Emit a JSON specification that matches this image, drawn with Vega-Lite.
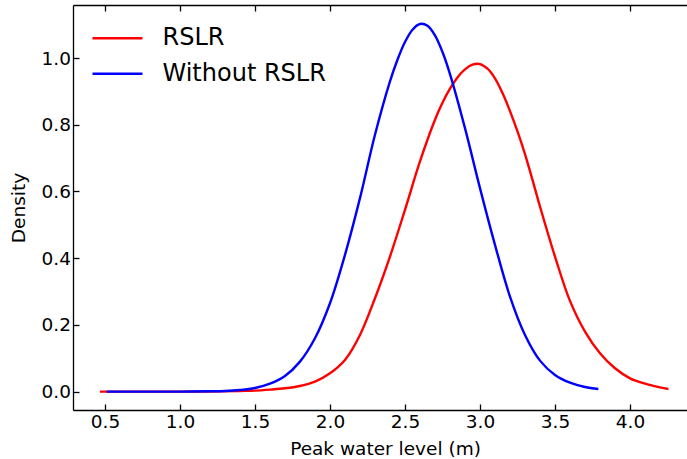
{
  "$schema": "https://vega.github.io/schema/vega-lite/v6.json",
  "width": 614,
  "height": 405,
  "autosize": {"type": "none"},
  "padding": {"left": 73, "top": 5, "right": 0, "bottom": 49},
  "background": "white",
  "config": {
    "view": {"stroke": null},
    "font": "DejaVu Sans",
    "axis": {
      "domainColor": "black",
      "domainWidth": 1.3,
      "tickColor": "black",
      "tickWidth": 1.3,
      "tickSize": -6,
      "labelColor": "black",
      "labelFont": "DejaVu Sans",
      "labelFontSize": 18.5,
      "titleColor": "black",
      "titleFont": "DejaVu Sans",
      "titleFontSize": 18.5,
      "titleFontWeight": "normal",
      "grid": false
    }
  },
  "data": {
    "values": [
      {"x": 0.467, "y": 0.0, "series": "RSLR"},
      {"x": 0.8, "y": 0.0, "series": "RSLR"},
      {"x": 1.0, "y": 0.0, "series": "RSLR"},
      {"x": 1.2, "y": 0.0005, "series": "RSLR"},
      {"x": 1.4, "y": 0.002, "series": "RSLR"},
      {"x": 1.5, "y": 0.003, "series": "RSLR"},
      {"x": 1.6, "y": 0.006, "series": "RSLR"},
      {"x": 1.7, "y": 0.01, "series": "RSLR"},
      {"x": 1.8, "y": 0.017, "series": "RSLR"},
      {"x": 1.9, "y": 0.03, "series": "RSLR"},
      {"x": 2.0, "y": 0.055, "series": "RSLR"},
      {"x": 2.1, "y": 0.095, "series": "RSLR"},
      {"x": 2.2, "y": 0.17, "series": "RSLR"},
      {"x": 2.3, "y": 0.28, "series": "RSLR"},
      {"x": 2.4, "y": 0.405, "series": "RSLR"},
      {"x": 2.5, "y": 0.545, "series": "RSLR"},
      {"x": 2.6, "y": 0.69, "series": "RSLR"},
      {"x": 2.7, "y": 0.815, "series": "RSLR"},
      {"x": 2.75, "y": 0.866, "series": "RSLR"},
      {"x": 2.8, "y": 0.908, "series": "RSLR"},
      {"x": 2.85, "y": 0.942, "series": "RSLR"},
      {"x": 2.9, "y": 0.966, "series": "RSLR"},
      {"x": 2.95, "y": 0.98, "series": "RSLR"},
      {"x": 3.0, "y": 0.982, "series": "RSLR"},
      {"x": 3.05, "y": 0.968, "series": "RSLR"},
      {"x": 3.1, "y": 0.939, "series": "RSLR"},
      {"x": 3.15, "y": 0.895, "series": "RSLR"},
      {"x": 3.2, "y": 0.841, "series": "RSLR"},
      {"x": 3.25, "y": 0.78, "series": "RSLR"},
      {"x": 3.3, "y": 0.712, "series": "RSLR"},
      {"x": 3.35, "y": 0.635, "series": "RSLR"},
      {"x": 3.4, "y": 0.555, "series": "RSLR"},
      {"x": 3.5, "y": 0.405, "series": "RSLR"},
      {"x": 3.6, "y": 0.272, "series": "RSLR"},
      {"x": 3.7, "y": 0.18, "series": "RSLR"},
      {"x": 3.8, "y": 0.115, "series": "RSLR"},
      {"x": 3.9, "y": 0.07, "series": "RSLR"},
      {"x": 4.0, "y": 0.04, "series": "RSLR"},
      {"x": 4.1, "y": 0.024, "series": "RSLR"},
      {"x": 4.2, "y": 0.013, "series": "RSLR"},
      {"x": 4.256, "y": 0.008, "series": "RSLR"},
      {"x": 0.511, "y": 0.0, "series": "Without RSLR"},
      {"x": 0.8, "y": 0.0, "series": "Without RSLR"},
      {"x": 1.0, "y": 0.0002, "series": "Without RSLR"},
      {"x": 1.2, "y": 0.001, "series": "Without RSLR"},
      {"x": 1.3, "y": 0.002, "series": "Without RSLR"},
      {"x": 1.4, "y": 0.005, "series": "Without RSLR"},
      {"x": 1.5, "y": 0.011, "series": "Without RSLR"},
      {"x": 1.6, "y": 0.024, "series": "Without RSLR"},
      {"x": 1.7, "y": 0.047, "series": "Without RSLR"},
      {"x": 1.8, "y": 0.09, "series": "Without RSLR"},
      {"x": 1.9, "y": 0.16, "series": "Without RSLR"},
      {"x": 2.0, "y": 0.265, "series": "Without RSLR"},
      {"x": 2.1, "y": 0.41, "series": "Without RSLR"},
      {"x": 2.2, "y": 0.58, "series": "Without RSLR"},
      {"x": 2.3, "y": 0.77, "series": "Without RSLR"},
      {"x": 2.4, "y": 0.93, "series": "Without RSLR"},
      {"x": 2.45, "y": 0.995, "series": "Without RSLR"},
      {"x": 2.5, "y": 1.048, "series": "Without RSLR"},
      {"x": 2.55, "y": 1.085, "series": "Without RSLR"},
      {"x": 2.6, "y": 1.102, "series": "Without RSLR"},
      {"x": 2.65, "y": 1.097, "series": "Without RSLR"},
      {"x": 2.7, "y": 1.068, "series": "Without RSLR"},
      {"x": 2.75, "y": 1.018, "series": "Without RSLR"},
      {"x": 2.8, "y": 0.952, "series": "Without RSLR"},
      {"x": 2.9, "y": 0.79, "series": "Without RSLR"},
      {"x": 3.0, "y": 0.61, "series": "Without RSLR"},
      {"x": 3.1, "y": 0.44, "series": "Without RSLR"},
      {"x": 3.2, "y": 0.285, "series": "Without RSLR"},
      {"x": 3.3, "y": 0.17, "series": "Without RSLR"},
      {"x": 3.4, "y": 0.093, "series": "Without RSLR"},
      {"x": 3.5, "y": 0.05, "series": "Without RSLR"},
      {"x": 3.6, "y": 0.027, "series": "Without RSLR"},
      {"x": 3.7, "y": 0.014, "series": "Without RSLR"},
      {"x": 3.789, "y": 0.008, "series": "Without RSLR"}
    ]
  },
  "layer": [
    {
      "mark": {"type": "line", "interpolate": "catmull-rom", "strokeWidth": 2.4},
      "encoding": {
        "x": {
          "field": "x", "type": "quantitative",
          "scale": {"domain": [0.287, 4.38], "nice": false, "zero": false},
          "axis": {
            "orient": "bottom",
            "values": [0.5, 1.0, 1.5, 2.0, 2.5, 3.0, 3.5, 4.0],
            "format": ".1f",
            "labelPadding": 8,
            "title": "Peak water level (m)",
            "titlePadding": 9,
            "titleX": 312
          }
        },
        "y": {
          "field": "y", "type": "quantitative",
          "scale": {"domain": [-0.055, 1.159], "nice": false, "zero": false},
          "axis": {
            "orient": "left",
            "values": [0.0, 0.2, 0.4, 0.6, 0.8, 1.0],
            "format": ".1f",
            "labelPadding": 8.5,
            "title": "Density",
            "titlePadding": 13
          }
        },
        "color": {
          "field": "series", "type": "nominal",
          "scale": {"domain": ["RSLR", "Without RSLR"], "range": ["#ff0000", "#0000ff"]},
          "legend": {
            "title": null,
            "orient": "none",
            "legendX": 30.5,
            "legendY": 19.3,
            "direction": "vertical",
            "symbolType": "M-2,0H2",
            "symbolSize": 625,
            "symbolStrokeWidth": 2.6,
            "labelFontSize": 24,
            "labelFont": "DejaVu Sans",
            "labelColor": "black",
            "labelOffset": 31,
            "labelLimit": 0,
            "rowPadding": 9.4,
            "padding": 0
          }
        }
      }
    },
    {
      "mark": {"type": "line", "opacity": 0},
      "encoding": {
        "x": {
          "field": "x", "type": "quantitative",
          "axis": {
            "orient": "top",
            "values": [0.5, 1.0, 1.5, 2.0, 2.5, 3.0, 3.5, 4.0],
            "labels": false,
            "title": null
          }
        },
        "y": {"field": "y", "type": "quantitative"}
      }
    }
  ],
  "resolve": {"axis": {"x": "independent"}}
}
